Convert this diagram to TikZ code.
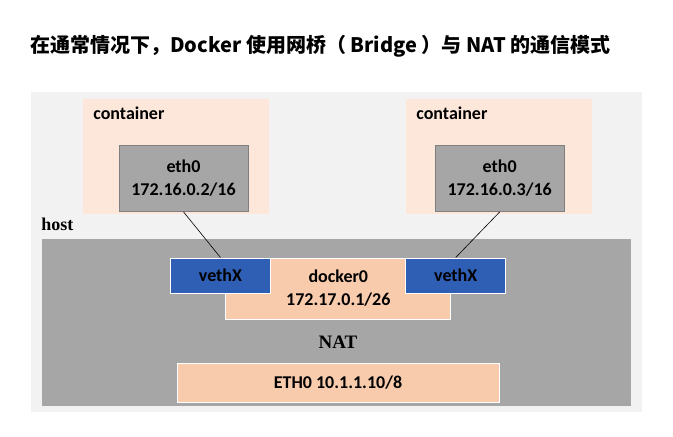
\documentclass[tikz,border=0pt]{standalone}
\usepackage{fontspec}
\setmainfont{Carlito}
\newfontfamily\cjk{Noto Sans CJK SC}
\newfontfamily\timesbf{Liberation Serif}[BoldFont=Liberation Serif Bold]
\definecolor{hostbg}{HTML}{F2F2F2}
\definecolor{ctrbg}{HTML}{FDE7DA}
\definecolor{ifgray}{HTML}{A6A6A6}
\definecolor{ifedge}{HTML}{7F7F7F}
\definecolor{peach}{HTML}{F8CBAD}
\definecolor{vethblue}{HTML}{2F5EB5}
\begin{document}
\begin{tikzpicture}[x=1pt, y=-1pt, font=\fontsize{18}{23}\selectfont\bfseries, line width=0.6pt,
  ctrbox/.style={fill=ctrbg, draw=none},
  ethbox/.style={rectangle, fill=ifgray, draw=ifedge, line width=0.8pt, align=center,
    minimum width=129pt, minimum height=66pt, inner sep=0pt},
  vethbox/.style={rectangle, fill=vethblue, draw=white, line width=1pt,
    minimum width=100pt, minimum height=35pt, inner sep=0pt},
  peachbox/.style={rectangle, fill=peach, draw=white, line width=1pt, align=center, inner sep=0pt},
  wire/.style={draw=black, line width=0.6pt}]
  \useasboundingbox (0,0) rectangle (673,437);
  % title
  \node[anchor=west, inner sep=0pt, font=\cjk\fontsize{20}{22}\selectfont\bfseries] (title) at (30,46)
    {在通常情况下，Docker 使用网桥（ Bridge ）与 NAT 的通信模式};
  % host area
  \fill[hostbg] (31,92) rectangle (642,412);
  \fill[ctrbox] (83,99) rectangle (269,214);
  \fill[ctrbox] (406,99) rectangle (592,214);
  \node[anchor=base west, inner sep=0pt] (ctrA) at (93,119) {container};
  \node[anchor=base west, inner sep=0pt] (ctrB) at (416,119) {container};
  \node[ethbox] (ethA) at (183.5,178.5) {eth0\\172.16.0.2/16};
  \node[ethbox] (ethB) at (499.7,178.5) {eth0\\172.16.0.3/16};
  \node[anchor=base west, inner sep=0pt, font=\timesbf\fontsize{18}{20}\selectfont\bfseries] (hostlbl) at (41,230) {host};
  \fill[ifgray] (42,239) rectangle (631,406);
  % bridge and veth pairs
  \node[peachbox, minimum width=225pt, minimum height=61pt] (docker) at (338.3,288.5) {docker0\\172.17.0.1/26};
  \node[vethbox] (vethA) at (220.5,275.5) {vethX};
  \node[vethbox] (vethB) at (455.7,275.5) {vethX};
  \node[font=\timesbf\fontsize{19}{20}\selectfont\bfseries] (nat) at (338,342) {NAT};
  \node[peachbox, minimum width=322pt, minimum height=39pt] (ethhost) at (338,382.5) {ETH0 10.1.1.10/8};
  % links
  \draw[wire] (ethA.south) -- (vethA.north);
  \draw[wire] (ethB.south) -- (vethB.north);
\end{tikzpicture}
\end{document}
